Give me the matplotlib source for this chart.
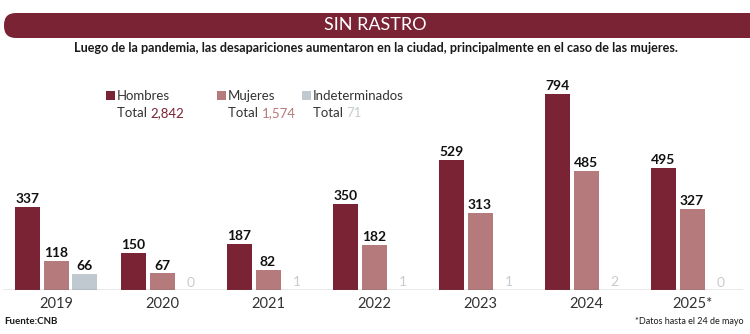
import numpy as np
import matplotlib.pyplot as plt
from matplotlib.patches import FancyBboxPatch, Rectangle

plt.rcParams['font.family'] = ['Lato', 'DejaVu Sans']

# ---------------- datos ----------------
anios = ['2019', '2020', '2021', '2022', '2023', '2024', '2025*']
hombres = [337, 150, 187, 350, 529, 794, 495]
mujeres = [118, 67, 82, 182, 313, 485, 327]
indeterminados = [66, 0, 1, 1, 1, 2, 0]
series = ['Hombres', 'Mujeres', 'Indeterminados']
totales = ['2,842', '1,574', '71']

c_hom = '#7a2335'
c_muj = '#b57a7b'
c_ind = '#bfc9cf'
colores = [c_hom, c_muj, c_ind]

fig = plt.figure(figsize=(7.5, 3.34), dpi=100)

# capa de fondo en pixeles para titulos y leyenda
bg = fig.add_axes([0, 0, 1, 1])
bg.set_xlim(0, 750)
bg.set_ylim(334, 0)
bg.axis('off')

banda = FancyBboxPatch((4, 13), 800, 25, boxstyle='round,pad=0,rounding_size=12',
                       fc=c_hom, ec='none')
bg.add_patch(banda)
bg.text(375, 25.5, 'SIN RASTRO', color='white', fontsize=13, ha='center', va='center')
bg.text(376, 48, 'Luego de la pandemia, las desapariciones aumentaron en la ciudad, '
        'principalmente en el caso de las mujeres.',
        color='#1a1a1a', fontsize=9.1, fontweight='bold', ha='center', va='center')

# leyenda
leg_x = [106, 217, 302]
for lx, nombre, tot, col in zip(leg_x, series, totales, colores):
    bg.add_patch(Rectangle((lx, 91), 9, 9, fc=col, ec='none'))
    bg.text(lx + 11, 96, nombre, color='#333333', fontsize=9.5, va='center')
    t = bg.text(lx + 11, 113, 'Total ', color='#333333', fontsize=9.5, va='center')
    bg.annotate(tot, xycoords=t, xy=(1, 0.5), va='center', color=col if col != c_ind else '#c5ccd0',
                fontsize=9.5)

bg.text(4, 321, 'Fuente:CNB', color='#1a1a1a', fontsize=7, fontweight='bold', va='center')
bg.text(744, 321, '*Datos hasta el 24 de mayo', color='#1a1a1a', fontsize=6.5,
        ha='right', va='center')

# ---------------- barras ----------------
ax = fig.add_axes([0, 44 / 334, 1, 230 / 334])
ax.set_xlim(0, 750)
ax.set_ylim(0, 230 / 0.2463)
ax.patch.set_alpha(0)
for s in ax.spines.values():
    s.set_visible(False)
ax.set_yticks([])
ax.tick_params(axis='x', length=0, pad=5, labelsize=10.5, labelcolor='#333333')

centros = 56 + 106 * np.arange(len(anios))
ancho = 25
desp = [-28.5, 0, 28.5]

for k, (vals, col) in enumerate(zip([hombres, mujeres, indeterminados], colores)):
    xs = centros + desp[k]
    ax.bar(xs, vals, width=ancho, color=col, zorder=2)
    for x, v in zip(xs, vals):
        if v < 10:
            ax.text(x, v + 6, str(v), ha='center', va='bottom', color='#c5ccd0', fontsize=10)
        else:
            ax.text(x, v + 8, str(v), ha='center', va='bottom', color='#111111',
                    fontsize=10, fontweight='bold')

ax.axhline(0, xmin=3 / 750, xmax=742 / 750, color='#555555', lw=0.9, zorder=3)
ax.set_xticks(centros)
ax.set_xticklabels(anios)

plt.savefig('out.png', dpi=100)
